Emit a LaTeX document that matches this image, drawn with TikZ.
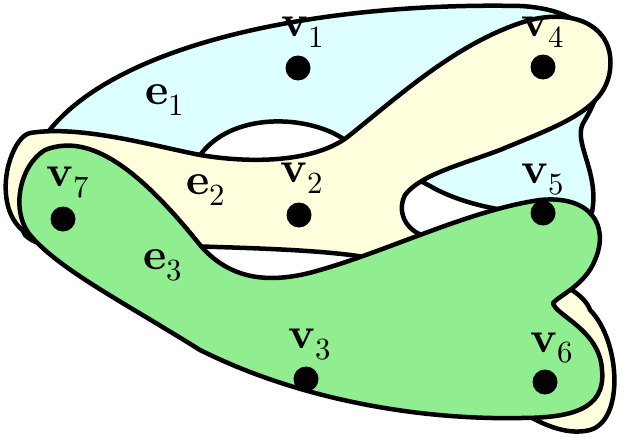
\documentclass[tikz,border=0pt]{standalone}
\usepackage{unicode-math}
\setmathfont{Latin Modern Math}
\begin{document}
\begin{tikzpicture}[x=1pt,y=-1pt,line width=4.5pt,line join=round,
  blob/.style={draw=black},
  vert/.style={circle,fill=black,inner sep=0pt,minimum size=25pt},
  lab/.style={inner sep=0pt,font=\fontsize{44}{48}\selectfont}]
\useasboundingbox (0,0) rectangle (628,444);
\definecolor{cyanc}{RGB}{221,255,255}
\definecolor{yelc}{RGB}{255,255,221}
\definecolor{grnc}{RGB}{144,238,144}
% e1
\path[blob,fill=cyanc] (48,132) .. controls (120,40) and (330,2) .. (520,6)
  .. controls (600,10) and (620,60) .. (585,120)
  .. controls (570,140) and (600,170) .. (592,212)
  .. controls (560,218) and (480,215) .. (430,186)
  .. controls (400,170) and (360,150) .. (345,140)
  .. controls (310,115) and (230,110) .. (198,158)
  .. controls (150,200) and (60,270) .. (25,235)
  .. controls (15,220) and (30,160) .. (48,132) -- cycle;
% e2
\path[blob,fill=yelc] (30,133) .. controls (80,125) and (150,145) .. (200,155)
  .. controls (260,165) and (320,160) .. (350,135)
  .. controls (400,95) and (460,40) .. (530,20)
  .. controls (580,8) and (615,30) .. (610,70)
  .. controls (605,110) and (560,125) .. (500,150)
  .. controls (460,165) and (420,175) .. (405,195)
  .. controls (395,215) and (410,235) .. (430,237)
  .. controls (500,260) and (580,280) .. (590,310)
  .. controls (620,340) and (625,420) .. (590,430)
  .. controls (550,440) and (500,400) .. (460,360)
  .. controls (420,320) and (390,265) .. (370,258)
  .. controls (300,245) and (150,248) .. (50,240)
  .. controls (5,238) and (0,190) .. (10,160)
  .. controls (15,145) and (22,135) .. (30,133) -- cycle;
% e3
\path[blob,fill=grnc] (45,150) .. controls (90,132) and (140,170) .. (200,245)
  .. controls (230,280) and (270,285) .. (320,270)
  .. controls (390,250) and (470,210) .. (540,200)
  .. controls (590,195) and (610,225) .. (595,260)
  .. controls (585,285) and (560,295) .. (553,303)
  .. controls (555,315) and (600,330) .. (602,370)
  .. controls (606,410) and (570,418) .. (520,418)
  .. controls (420,420) and (300,400) .. (200,350)
  .. controls (120,300) and (60,270) .. (30,235)
  .. controls (10,210) and (20,165) .. (45,150) -- cycle;
\node[vert] (v1) at (298,68) {};
\node[vert] (v4) at (543,67) {};
\node[vert] (v2) at (299,215) {};
\node[vert] (v5) at (543,213) {};
\node[vert] (v7) at (63,219) {};
\node[vert] (v3) at (306,379) {};
\node[vert] (v6) at (545,382) {};
\node[lab] at (303,32) {$\symbf{v}_1$};
\node[lab] at (543,32) {$\symbf{v}_4$};
\node[lab] at (302,178) {$\symbf{v}_2$};
\node[lab] at (543,180) {$\symbf{v}_5$};
\node[lab] at (68,183) {$\symbf{v}_7$};
\node[lab] at (310,345) {$\symbf{v}_3$};
\node[lab] at (552,348) {$\symbf{v}_6$};
\node[lab] at (165,100) {$\symbf{e}_1$};
\node[lab] at (206,190) {$\symbf{e}_2$};
\node[lab] at (163,265) {$\symbf{e}_3$};
\end{tikzpicture}
\end{document}
